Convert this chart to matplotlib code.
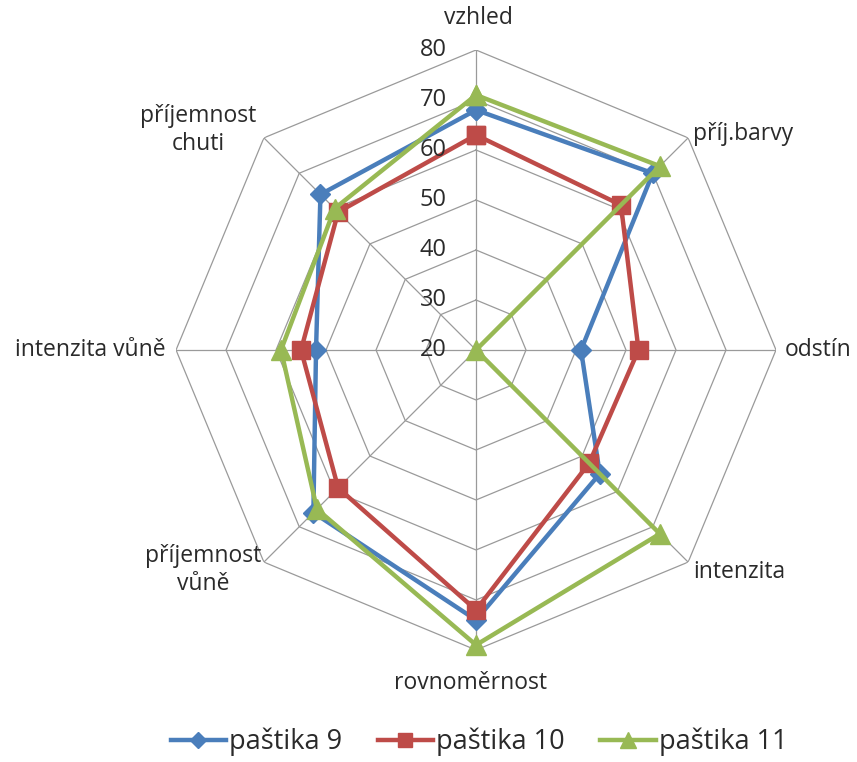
import numpy as np
import matplotlib
matplotlib.use("Agg")
import matplotlib.pyplot as plt

plt.rcParams['font.family'] = ['Open Sans', 'DejaVu Sans']

categories = ["vzhled", "příj.barvy", "odstín", "intenzita", "rovnoměrnost",
              "příjemnost\nvůně", "intenzita vůně", "příjemnost\nchuti"]
series_names = ["paštika 9", "paštika 10", "paštika 11"]
pastika9 = [68, 70, 41, 55, 74, 66, 52, 64]
pastika10 = [63, 61, 52.5, 52, 72, 59, 55, 59]
pastika11 = [71, 72, 20, 72, 79, 65, 59, 60]
ring_values = [20, 30, 40, 50, 60, 70, 80]

colors = ["#4A7EBB", "#BE4B48", "#98B954"]
markers = ["D", "s", "^"]
msizes = [10, 13, 14]

fig = plt.figure(figsize=(8.57, 7.62), dpi=100)
ax = fig.add_axes([0.2054, 0.147, 0.7001, 0.7874], projection="polar")
ax.set_theta_zero_location("N")
ax.set_theta_direction(-1)
ax.set_ylim(20, 80)
ax.axis("off")

n = len(categories)
theta = np.arange(n) * 2 * np.pi / n
theta_c = np.append(theta, theta[0])

grid_color = "#9a9a9a"
for v in ring_values[1:]:
    ax.plot(theta_c, [v] * (n + 1), color=grid_color, lw=0.9, zorder=1)
for t in theta:
    ax.plot([t, t], [20, 80], color=grid_color, lw=0.9, zorder=1)

for vals, name, c, m, ms in zip([pastika9, pastika10, pastika11], series_names, colors, markers, msizes):
    vv = np.append(vals, vals[0])
    ax.plot(theta_c, vv, color=c, lw=3.2, marker=m, markersize=ms,
            label=name, clip_on=False, zorder=3)

text_color = "#2a2a2a"
# radial labels
for v in ring_values:
    ax.annotate(str(v), xy=(0, v), xytext=(-21, 0), textcoords="offset points",
                ha="right", va="center", fontsize=17, color=text_color, annotation_clip=False)

# category labels: (dx, dy) in pixels, ha
label_pos = [
    ((2, 32), "center"),
    ((5, 4), "left"),
    ((9, 0), "left"),
    ((5, -10), "left"),
    ((-6, -33), "center"),
    ((-61, -8), "center"),
    ((-10, 0), "right"),
    ((-66, 8), "center"),
]
for t, lab, ((dx, dy), ha) in zip(theta, categories, label_pos):
    ax.annotate(lab, xy=(t, 80), xytext=(dx * 0.72, dy * 0.72), textcoords="offset points",
                ha=ha, va="center", fontsize=16.5, color=text_color, multialignment="center",
                linespacing=1.2, annotation_clip=False)

leg = fig.legend(loc="center", ncol=3, frameon=False, fontsize=19.5,
                 bbox_to_anchor=(0.559, 20 / 762), handlelength=2.05, columnspacing=1.3,
                 handletextpad=0.12, markerscale=0.8)
for t in leg.get_texts():
    t.set_color(text_color)
fig.savefig("out.png", dpi=100)
